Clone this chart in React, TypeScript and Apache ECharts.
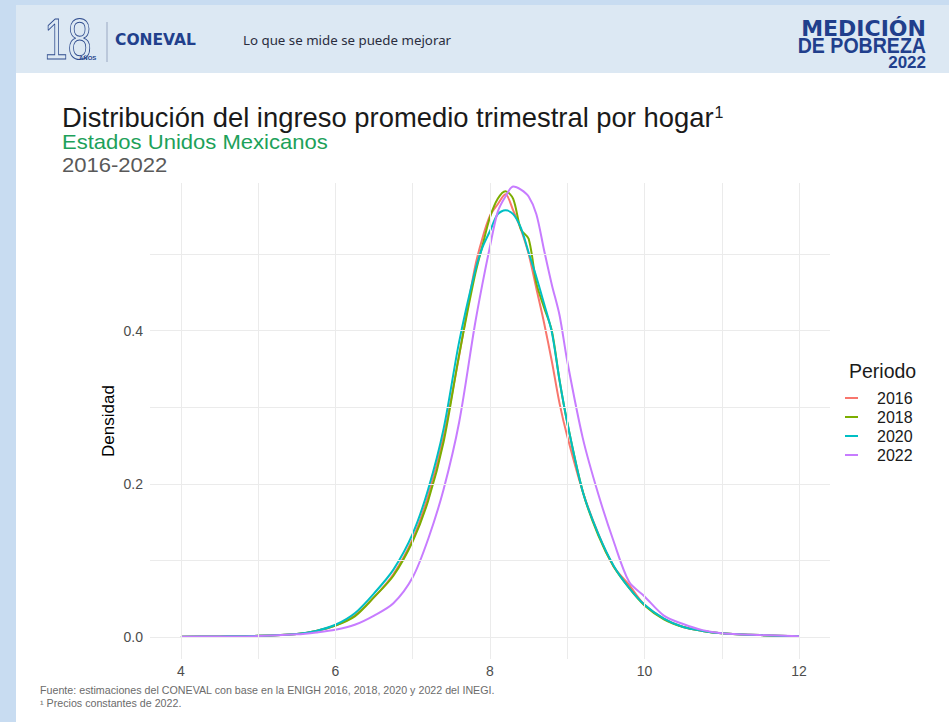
import React, { useEffect, useRef } from 'react';
import * as echarts from 'echarts';

const periods = ['2016', '2018', '2020', '2022'];
const periodColors = ['#F8766D', '#7CAE00', '#00BFC4', '#C77CFF'];

const logIncome = [4.0, 4.5, 5.0, 5.5, 5.75, 6.0, 6.25, 6.5, 6.75, 7.0, 7.2, 7.4, 7.6, 7.8, 7.9, 8.0, 8.1, 8.2, 8.3, 8.4, 8.5, 8.6, 8.7, 8.8, 8.9, 9.0, 9.2, 9.4, 9.6, 9.8, 10.0, 10.25, 10.5, 10.75, 11.0, 11.5, 12.0];

const density2016 = [0.0005, 0.0008, 0.0015, 0.004, 0.008, 0.015, 0.028, 0.052, 0.082, 0.128, 0.185, 0.262, 0.367, 0.48, 0.52, 0.55, 0.565, 0.578, 0.557, 0.532, 0.5, 0.455, 0.41, 0.36, 0.305, 0.262, 0.19, 0.135, 0.092, 0.068, 0.042, 0.024, 0.013, 0.008, 0.005, 0.0025, 0.001];
const density2018 = [0.0005, 0.0008, 0.0015, 0.004, 0.008, 0.015, 0.027, 0.052, 0.08, 0.125, 0.178, 0.255, 0.368, 0.47, 0.51, 0.548, 0.572, 0.582, 0.572, 0.532, 0.52, 0.462, 0.43, 0.4, 0.335, 0.28, 0.19, 0.133, 0.092, 0.064, 0.041, 0.023, 0.013, 0.008, 0.005, 0.0025, 0.001];
const density2020 = [0.0005, 0.0008, 0.0015, 0.004, 0.008, 0.016, 0.031, 0.057, 0.088, 0.135, 0.193, 0.272, 0.385, 0.475, 0.508, 0.53, 0.552, 0.557, 0.552, 0.534, 0.502, 0.47, 0.435, 0.398, 0.335, 0.28, 0.19, 0.135, 0.093, 0.064, 0.042, 0.024, 0.013, 0.008, 0.005, 0.0025, 0.001];
const density2022 = [0.0005, 0.0007, 0.0012, 0.0035, 0.006, 0.0095, 0.016, 0.028, 0.044, 0.078, 0.128, 0.193, 0.28, 0.405, 0.46, 0.51, 0.555, 0.575, 0.588, 0.584, 0.575, 0.552, 0.505, 0.46, 0.42, 0.36, 0.26, 0.187, 0.125, 0.072, 0.053, 0.028, 0.017, 0.009, 0.005, 0.0026, 0.001];

const xTickValues = [4, 6, 8, 10, 12];
const xMinorValues = [5, 7, 9, 11];
const yTickValues = [0, 0.2, 0.4];
const yMinorValues = [0.1, 0.3, 0.5];

const NAVY = '#213f8c';
const FONT = 'Liberation Sans, Arial, sans-serif';

export default function App() {
  const ref = useRef<HTMLDivElement>(null);

  useEffect(() => {
    const chart = echarts.init(ref.current as HTMLDivElement, null, { renderer: 'svg' });
    const allDensities = [density2016, density2018, density2020, density2022];

    const gridLineData: any[] = [];
    xTickValues.concat(xMinorValues).forEach((v) => gridLineData.push({ xAxis: v }));
    yTickValues.concat(yMinorValues).forEach((v) => gridLineData.push({ yAxis: v }));

    const dataSeries = periods.map((p, i) => ({
      name: p,
      type: 'line',
      z: 3,
      data: logIncome.map((x, j) => [x, allDensities[i][j]]),
      showSymbol: false,
      symbol: 'none',
      smooth: 0.3,
      lineStyle: { color: periodColors[i], width: 2 },
      itemStyle: { color: periodColors[i] },
    }));

    const option: any = {
      animation: false,
      backgroundColor: '#ffffff',
      grid: { left: 150, top: 183, width: 680, height: 476, containLabel: false },
      xAxis: {
        type: 'value',
        min: 3.6,
        max: 12.4,
        axisLine: { show: false },
        axisTick: { show: false },
        splitLine: { show: false },
        axisLabel: {
          customValues: xTickValues,
          formatter: (v: number) => String(v),
          color: '#4d4d4d',
          fontSize: 14,
          fontFamily: FONT,
          margin: 5,
        },
      },
      yAxis: {
        type: 'value',
        min: -0.0287,
        max: 0.5927,
        name: 'Densidad',
        nameLocation: 'middle',
        nameGap: 33,
        nameMoveOverlap: false,
        nameRotate: 90,
        nameTextStyle: { color: '#000000', fontSize: 17, fontFamily: FONT },
        axisLine: { show: false },
        axisTick: { show: false },
        splitLine: { show: false },
        axisLabel: {
          customValues: yTickValues,
          formatter: (v: number) => v.toFixed(1),
          color: '#4d4d4d',
          fontSize: 14,
          fontFamily: FONT,
          margin: 7,
        },
      },
      legend: {
        data: periods,
        orient: 'vertical',
        left: 840,
        top: 385,
        icon: 'rect',
        itemWidth: 13,
        itemHeight: 2,
        itemGap: 3,
        selectedMode: false,
        textStyle: {
          color: '#1a1a1a',
          fontSize: 16,
          lineHeight: 16,
          fontFamily: FONT,
          padding: [0, 0, 0, 14],
        },
      },
      series: [
        {
          name: 'grid',
          type: 'line',
          z: 1,
          data: [[4, 0]],
          showSymbol: false,
          symbol: 'none',
          lineStyle: { opacity: 0 },
          silent: true,
          markLine: {
            silent: true,
            symbol: ['none', 'none'],
            label: { show: false },
            lineStyle: { color: '#ebebeb', width: 1, type: 'solid' },
            emphasis: { disabled: true },
            data: gridLineData,
          },
        },
        ...dataSeries,
      ],
      graphic: [
        { type: 'rect', shape: { x: 0, y: 0, width: 16, height: 722 }, style: { fill: '#c8dcf1' }, silent: true },
        { type: 'rect', shape: { x: 0, y: 0, width: 949, height: 5 }, style: { fill: '#c8dcf1' }, silent: true },
        { type: 'rect', shape: { x: 16, y: 5, width: 933, height: 68 }, style: { fill: '#dce8f3' }, silent: true },
        {
          type: 'text', x: 44, y: 39, scaleX: 0.74,
          style: { text: '18', fontSize: 58, fontFamily: FONT, fill: 'none', stroke: '#2f4c8e', lineWidth: 1, verticalAlign: 'middle', align: 'left' },
        },
        {
          type: 'text', x: 79, y: 58,
          style: { text: 'AÑOS', fontSize: 6, fontWeight: 'bold', fontFamily: FONT, fill: NAVY, verticalAlign: 'middle', align: 'left' },
        },
        { type: 'line', shape: { x1: 107, y1: 22, x2: 107, y2: 62 }, style: { stroke: '#9aa8c2', lineWidth: 1 } },
        {
          type: 'text', x: 115, y: 40,
          style: { text: 'CONEVAL', fontSize: 15.5, fontWeight: 900, fontFamily: 'DejaVu Sans, sans-serif', fill: NAVY, verticalAlign: 'middle', align: 'left' },
        },
        {
          type: 'text', x: 243, y: 40,
          style: { text: 'Lo que se mide se puede mejorar', fontSize: 13.3, fontFamily: 'Noto Sans, sans-serif', fill: '#2a2d3e', verticalAlign: 'middle', align: 'left' },
        },
        {
          type: 'text', x: 926, y: 28,
          style: { text: 'MEDICIÓN', fontSize: 22, fontWeight: 'bold', fontFamily: 'DejaVu Sans, sans-serif', fill: NAVY, verticalAlign: 'middle', align: 'right' },
        },
        {
          type: 'text', x: 926, y: 45.5, scaleX: 0.89,
          style: { text: 'DE POBREZA', fontSize: 22, fontWeight: 'bold', fontFamily: FONT, fill: NAVY, verticalAlign: 'middle', align: 'right' },
        },
        {
          type: 'text', x: 926, y: 62.5,
          style: { text: '2022', fontSize: 17, fontWeight: 'bold', fontFamily: FONT, fill: NAVY, verticalAlign: 'middle', align: 'right' },
        },
        {
          type: 'text', x: 62, y: 117,
          style: {
            text: '{a|Distribución del ingreso promedio trimestral por hogar}{s|1}',
            fontFamily: FONT,
            verticalAlign: 'middle', align: 'left',
            rich: {
              a: { fontSize: 27.4, fill: '#1a1a1a', lineHeight: 26, fontFamily: FONT },
              s: { fontSize: 16, fill: '#1a1a1a', verticalAlign: 'top', padding: [0, 0, 0, 1], fontFamily: FONT },
            },
          },
        },
        {
          type: 'text', x: 62, y: 142.5, scaleX: 1.05,
          style: { text: 'Estados Unidos Mexicanos', fontSize: 21, fontFamily: FONT, fill: '#1da15a', verticalAlign: 'middle', align: 'left' },
        },
        {
          type: 'text', x: 62, y: 165, scaleX: 1.05,
          style: { text: '2016-2022', fontSize: 21, fontFamily: FONT, fill: '#595959', verticalAlign: 'middle', align: 'left' },
        },
        {
          type: 'text', x: 849, y: 371,
          style: { text: 'Periodo', fontSize: 19.5, fontFamily: FONT, fill: '#1a1a1a', verticalAlign: 'middle', align: 'left' },
        },
        {
          type: 'text', x: 40, y: 691, scaleX: 1.07,
          style: { text: 'Fuente: estimaciones del CONEVAL con base en la ENIGH 2016, 2018, 2020 y 2022 del INEGI.', fontSize: 10, fontFamily: FONT, fill: '#6b6b6b', verticalAlign: 'middle', align: 'left' },
        },
        {
          type: 'text', x: 40, y: 704, scaleX: 1.07,
          style: { text: '¹ Precios constantes de 2022.', fontSize: 10, fontFamily: FONT, fill: '#6b6b6b', verticalAlign: 'middle', align: 'left' },
        },
      ],
    };

    chart.setOption(option);
    return () => chart.dispose();
  }, []);

  return <div ref={ref} style={{ position: 'fixed', left: 0, top: 0, width: 949, height: 722 }} />;
}
